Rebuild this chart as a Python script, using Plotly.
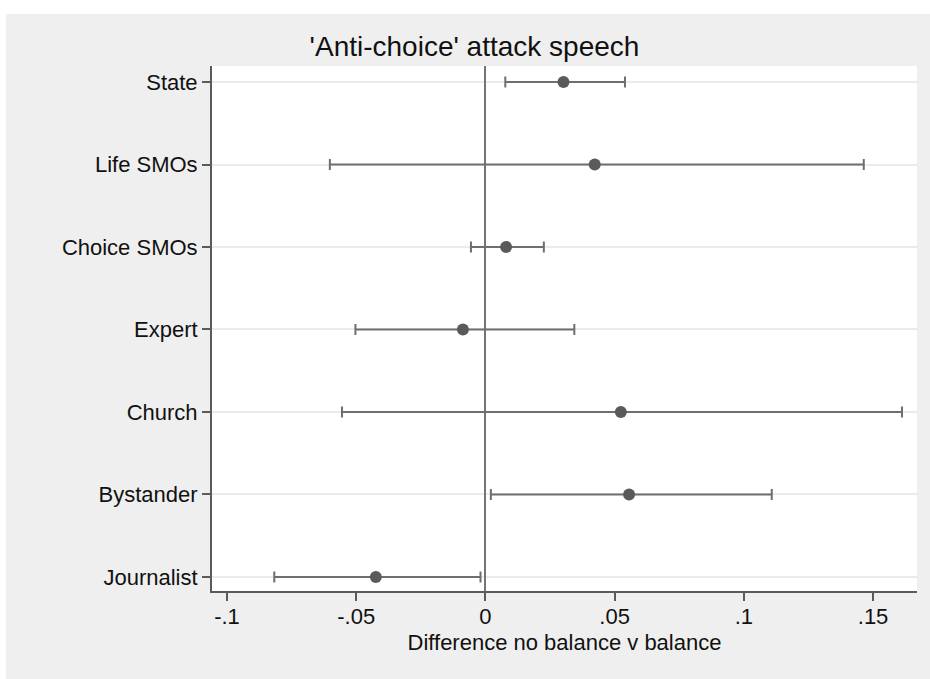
import plotly.graph_objects as go

# Data (top-to-bottom order as shown)
categories = ["State", "Life SMOs", "Choice SMOs", "Expert", "Church", "Bystander", "Journalist"]
estimates = [0.0302, 0.0423, 0.0080, -0.0087, 0.0524, 0.0556, -0.0424]
lower = [0.0077, -0.0602, -0.0056, -0.0503, -0.0555, 0.0021, -0.0817]
upper = [0.0540, 0.1464, 0.0226, 0.0344, 0.1612, 0.1108, -0.0019]

x_tickvals = [-0.1, -0.05, 0, 0.05, 0.1, 0.15]
x_ticktext = ["-.1", "-.05", "0", ".05", ".1", ".15"]

title_text = "'Anti-choice' attack speech"
xaxis_title = "Difference no balance v balance"

err_plus = [u - e for u, e in zip(upper, estimates)]
err_minus = [e - l for e, l in zip(estimates, lower)]

FONT = "Liberation Sans, Arial, Helvetica, sans-serif"
TXT = "#111111"
W, H = 930, 679
L, R, T, B = 212, 13, 66, 88

fig = go.Figure()
fig.add_trace(go.Scatter(
    x=estimates,
    y=categories,
    mode="markers",
    marker=dict(size=12, color="#5a5a5a"),
    error_x=dict(type="data", symmetric=False, array=err_plus, arrayminus=err_minus,
                 color="#6e6e6e", thickness=2, width=5.5),
    showlegend=False,
    cliponaxis=False,
))

fig.update_layout(
    width=W, height=H,
    margin=dict(l=L, r=R, t=T, b=B, pad=0),
    paper_bgcolor="#efefef",
    plot_bgcolor="#ffffff",
    font=dict(family=FONT, size=22, color=TXT),
    title=dict(text=title_text, x=(474.5 - L) / (W - L - R), xref="paper", xanchor="center",
               y=1 - 46 / H, yref="container", yanchor="middle",
               font=dict(size=28, family=FONT, color=TXT)),
    xaxis=dict(
        range=[-0.1058, 0.1670],
        tickvals=x_tickvals, ticktext=x_ticktext,
        showgrid=False,
        zeroline=True, zerolinecolor="#747474", zerolinewidth=2.2,
        showline=True, linecolor="#5a5a5a", linewidth=2,
        ticks="outside", ticklen=8, tickwidth=2, tickcolor="#5a5a5a",
        ticklabelstandoff=-3,
        tickfont=dict(size=22, family=FONT, color=TXT),
        title=dict(text=xaxis_title, standoff=6, font=dict(size=22, family=FONT, color=TXT)),
    ),
    yaxis=dict(
        type="category",
        categoryorder="array", categoryarray=categories[::-1],
        range=[-0.17, 6.194],
        showgrid=True, gridcolor="#ebebeb", gridwidth=2,
        zeroline=False,
        showline=True, linecolor="#5a5a5a", linewidth=2,
        ticks="outside", ticklen=8, tickwidth=2, tickcolor="#5a5a5a",
        tickfont=dict(size=22, family=FONT, color=TXT),
    ),
)

# white strips at top and left edge (outside the grey graph region)
fig.add_shape(type="rect", xref="paper", yref="paper",
              x0=-L / (W - L - R) - 0.01, x1=1 + R / (W - L - R) + 0.01,
              y0=1 + (T - 14) / (H - T - B), y1=1 + T / (H - T - B) + 0.01,
              fillcolor="#ffffff", line=dict(width=0), layer="above")
fig.add_shape(type="rect", xref="paper", yref="paper",
              x0=-L / (W - L - R) - 0.01, x1=-(L - 6) / (W - L - R),
              y0=-B / (H - T - B) - 0.01, y1=1 + T / (H - T - B) + 0.01,
              fillcolor="#ffffff", line=dict(width=0), layer="above")

fig.write_html("out.html")
